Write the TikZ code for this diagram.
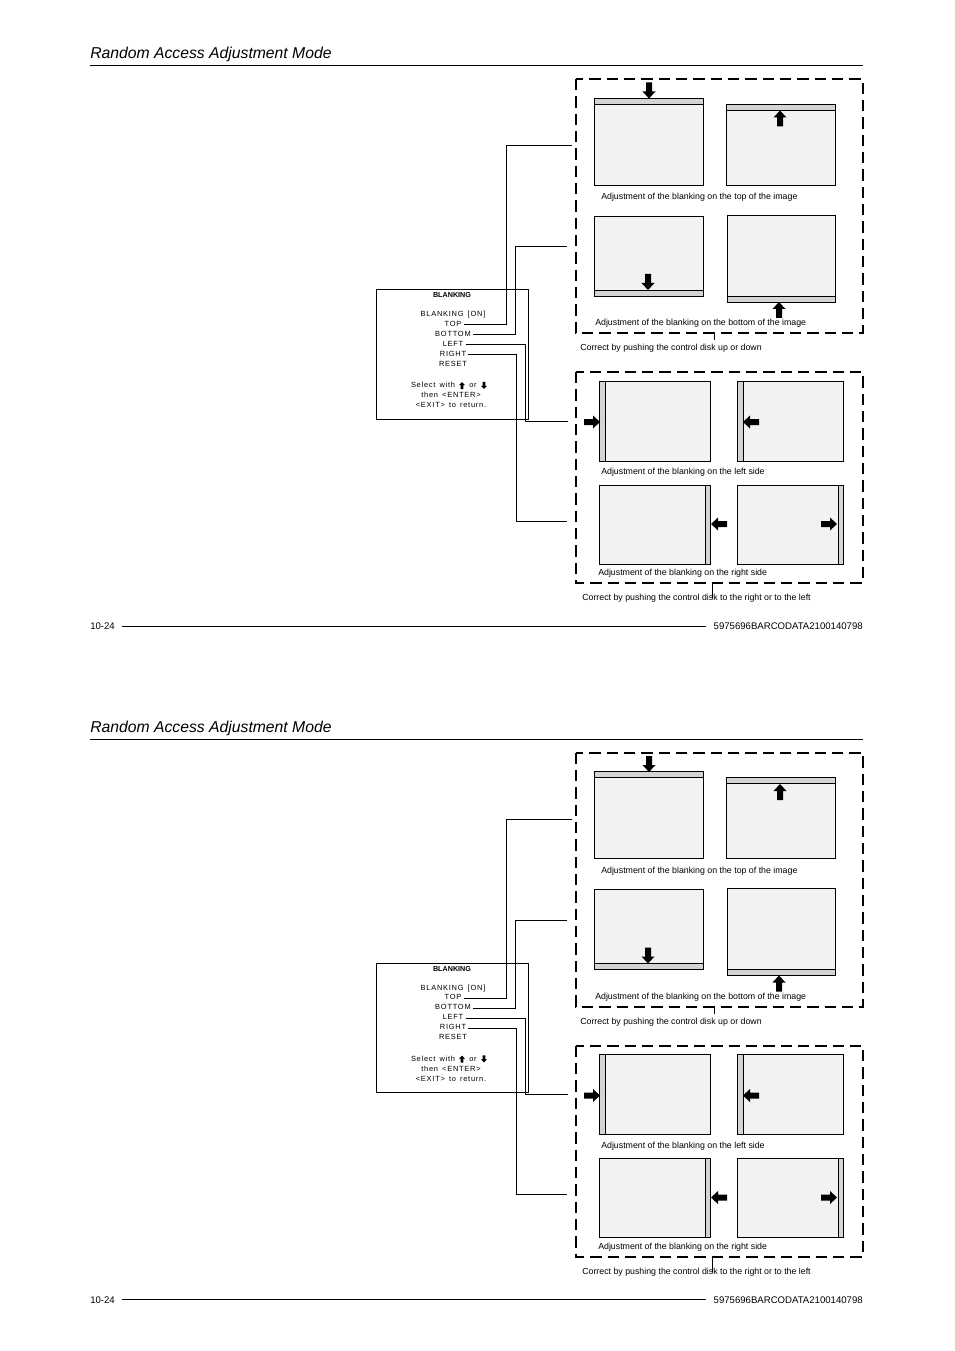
\documentclass[tikz,border=0pt]{standalone}
\usepackage{fontspec}
\setmainfont{Liberation Sans}
\newfontfamily\menufont[LetterSpace=10]{Liberation Sans}
\tikzset{
  dbox/.style={line width=1.5pt, dash pattern=on 8.5pt off 4.5pt},
  screen/.style={draw=black, line width=0.7pt, fill=black!5},
  band/.style={draw=black, line width=0.7pt, fill=black!17},
  conn/.style={line width=0.75pt},
  captxt/.style={font=\fontsize{6.6pt}{7pt}\selectfont, inner sep=0pt, anchor=base west},
  menutxt/.style={font=\menufont\fontsize{5.6pt}{6pt}\selectfont, inner sep=0.5pt, anchor=base},
  titletxt/.style={font=\itshape\fontsize{11.8pt}{13pt}\selectfont, inner sep=0pt, anchor=base west},
  foottxt/.style={font=\fontsize{7.2pt}{8pt}\selectfont, inner sep=0pt, anchor=base},
  barrow/.pic={\fill (-16,-3) -- (-7,-3) -- (-7,-6.5) -- (0,0) -- (-7,6.5) -- (-7,3) -- (-16,3) -- cycle;}
}
\newcommand\drawpage[2]{%
\begin{scope}[shift={(0,#1)}]
  % header
  \node[titletxt] (title#2) at (90,58.5) {Random Access Adjustment Mode};
  \draw[line width=0.75pt] (90,65.5) -- (863,65.5);
  % footer
  \node[foottxt, anchor=base west] (pg#2) at (90,629.5) {10-24};
  \node[foottxt, anchor=base east] (code#2) at (863,629.5) {5975696BARCODATA2100140798};
  \draw[line width=0.75pt] (122,626) -- (706,626);
  % dashed groups
  \draw[dbox] (576,79) rectangle (863,333);
  \draw[dbox] (576,372) rectangle (863,583);
  % screens top/bottom
  \filldraw[screen] (594,98) rectangle (703,185);
  \filldraw[band] (594,98) rectangle (703,104);
  \pic[rotate=-90] at (649,98.5) {barrow};
  \filldraw[screen] (726,104) rectangle (835,185);
  \filldraw[band] (726,104) rectangle (835,110);
  \pic[rotate=90] at (780,110.5) {barrow};
  \node[captxt] (c1#2) at (601,200) {Adjustment of the blanking on the top of the image};
  \filldraw[screen] (594,216) rectangle (703,296);
  \filldraw[band] (594,290) rectangle (703,296);
  \pic[rotate=-90] at (648,290) {barrow};
  \filldraw[screen] (727,215) rectangle (835,302);
  \filldraw[band] (727,296) rectangle (835,302);
  \pic[rotate=90] at (779,302) {barrow};
  \node[captxt] (c2#2) at (595,326) {Adjustment of the blanking on the bottom of the image};
  \draw[conn] (714,333) -- (714,340);
  \node[captxt] (c3#2) at (580,351) {Correct by pushing the control disk up or down};
  % screens left/right
  \filldraw[screen] (599,381) rectangle (710,461);
  \filldraw[band] (599,381) rectangle (605,461);
  \pic[rotate=0] at (600,422) {barrow};
  \filldraw[screen] (737,381) rectangle (843,461);
  \filldraw[band] (737,381) rectangle (743,461);
  \pic[rotate=180] at (743,422) {barrow};
  \node[captxt] (c4#2) at (601,474.5) {Adjustment of the blanking on the left side};
  \filldraw[screen] (599,485) rectangle (710,564);
  \filldraw[band] (705,485) rectangle (710,564);
  \pic[rotate=180] at (711,524) {barrow};
  \filldraw[screen] (737,485) rectangle (843,564);
  \filldraw[band] (838,485) rectangle (843,564);
  \pic[rotate=0] at (837,524) {barrow};
  \node[captxt] (c5#2) at (598,575.5) {Adjustment of the blanking on the right side};
  \draw[conn] (712,582) -- (712,598);
  \node[captxt] (c6#2) at (582,600.5) {Correct by pushing the control disk to the right or to the left};
  % menu
  \draw[line width=0.75pt] (376,290) rectangle (528,419);
  \node[font=\bfseries\fontsize{5.4pt}{6pt}\selectfont, inner sep=0pt, anchor=base] (mh#2) at (452,297.5) {BLANKING};
  \node[menutxt] (on#2) at (453,316.7) {BLANKING \,[ON]};
  \node[menutxt] (top#2) at (453,326.2) {TOP};
  \node[menutxt] (bot#2) at (453,336.2) {BOTTOM};
  \node[menutxt] (left#2) at (453,346.2) {LEFT};
  \node[menutxt] (right#2) at (453,356.2) {RIGHT};
  \node[menutxt] (reset#2) at (453,366.2) {RESET};
  \node[menutxt, anchor=base east] (sel#2) at (456,387.7) {Select \,with};
  \pic[scale=0.45, rotate=90] at (462,382) {barrow};
  \node[menutxt] (or#2) at (473,387.7) {or};
  \pic[scale=0.45, rotate=-90] at (484,389) {barrow};
  \node[menutxt] (then#2) at (451,397.7) {then \,<ENTER>};
  \node[menutxt] (exit#2) at (451,407.7) {<EXIT> \,to \,return.};
  % connectors
  \coordinate (ct#2) at (572,146);
  \coordinate (cb#2) at (567,247);
  \coordinate (cl#2) at (568,421);
  \coordinate (cr#2) at (567,521);
  \draw[conn] ([xshift=1pt,yshift=-1pt]top#2.east) -| (506,146) -- (ct#2);
  \draw[conn] ([xshift=1pt,yshift=-1pt]bot#2.east) -| (515,247) -- (cb#2);
  \draw[conn] ([xshift=1pt,yshift=-1pt]left#2.east) -| (525,421) -- (cl#2);
  \draw[conn] ([xshift=1pt,yshift=-1pt]right#2.east) -| (516,521) -- (cr#2);
\end{scope}}
\begin{document}
\begin{tikzpicture}[x=0.75pt, y=-0.75pt]
  \useasboundingbox[fill=white] (0,0) rectangle (954,1351);
  \drawpage{0}{a}
  \drawpage{673.5}{b}
\end{tikzpicture}
\end{document}
